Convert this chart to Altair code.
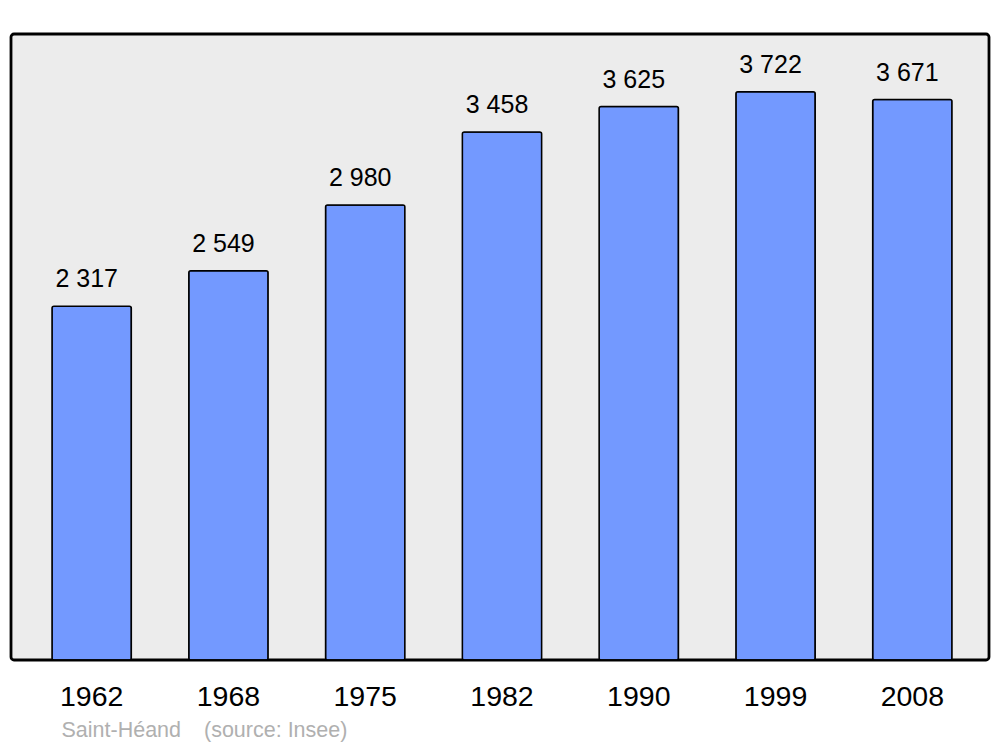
import altair as alt
import pandas as pd

years = ["1962", "1968", "1975", "1982", "1990", "1999", "2008"]
population = [2317, 2549, 2980, 3458, 3625, 3722, 3671]
town = "Saint-Héand"
source = "(source: Insee)"

df = pd.DataFrame({
    "year": years,
    "pop": population,
    "label": [f"{v:,}".replace(",", " ") for v in population],
})

FONT = "Liberation Sans"
W, H = 978, 626

x = alt.X("year:N", sort=years, title=None,
          scale=alt.Scale(paddingInner=0.42, paddingOuter=0, range=[41, 941]),
          axis=alt.Axis(labelAngle=0, ticks=False, domain=False, grid=False,
                        labelFontSize=28.5, labelFont=FONT, labelColor="#000000",
                        labelPadding=45, labelBaseline="alphabetic"))
y = alt.Y("pop:Q", title=None, scale=alt.Scale(domain=[0, 4100], nice=False),
          axis=None)

base = alt.Chart(df)

bars = base.mark_bar(fill="#7399FF", stroke="#000000", strokeWidth=1.5,
                     cornerRadius=2).encode(x=x, y=y)

labels = base.mark_text(font=FONT, fontSize=25, color="#000000",
                        baseline="alphabetic", dy=-19, dx=-5).encode(
    x=alt.X("year:N", sort=years), y=alt.Y("pop:Q"), text="label:N")

src_df = pd.DataFrame({"t": [town, source], "px": [50.5, 193]})
src = alt.Chart(src_df).mark_text(font=FONT, fontSize=21.5, color="#B0B0B0",
                                  align="left", baseline="alphabetic").encode(
    x=alt.X("px:Q", scale=None), y=alt.value(H + 77.3), text="t:N")

chart = alt.layer(bars, labels, src).properties(
    width=W, height=H,
    autosize=alt.AutoSizeParams(type="none"),
    padding={"left": 3, "top": 26, "right": 3, "bottom": 100},
    background="#FFFFFF",
).configure_view(
    fill="#ECECEC", stroke="#000000", strokeWidth=2.8, cornerRadius=3
)

chart.save("out.html", embed_options={"renderer": "svg", "actions": False})
